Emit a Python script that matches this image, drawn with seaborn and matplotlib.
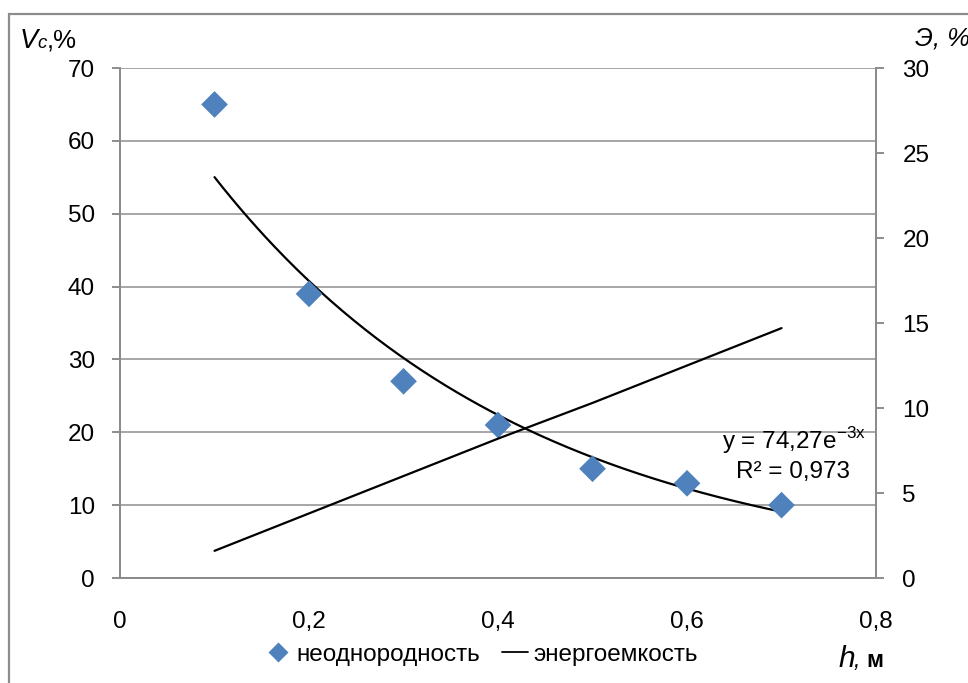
import numpy as np
import pandas as pd
import matplotlib
matplotlib.use("Agg")
import matplotlib.pyplot as plt
import seaborn as sns
from matplotlib.lines import Line2D
from matplotlib.patches import Rectangle

# Measured data
h_values = [0.1, 0.2, 0.3, 0.4, 0.5, 0.6, 0.7]
nonuniformity = [65, 39, 27, 21, 15, 13, 10]          # Vc, %
energy = [1.6, 3.8, 6.0, 8.2, 10.3, 12.5, 14.7]       # Э, %

# Exponential trendline of the non-uniformity series
trend_a = 74.27
trend_b = -3.0
trend_r2 = 0.973

left_ticks = [0, 10, 20, 30, 40, 50, 60, 70]
right_ticks = [0, 5, 10, 15, 20, 25, 30]
x_ticks = [0, 0.2, 0.4, 0.6, 0.8]

sns.set_theme(style="white")
plt.rcParams["font.family"] = ["Liberation Sans", "DejaVu Sans"]
plt.rcParams["mathtext.fontset"] = "custom"
plt.rcParams["mathtext.rm"] = "Liberation Sans"
plt.rcParams["text.color"] = "black"

BLUE = "#4F81BD"
GRID = "#A6A6A6"
AX = "#8C8C8C"
FS = 17.5

fig = plt.figure(figsize=(9.68, 6.83), dpi=100)
ax = fig.add_axes([0.124, 0.1537, 0.781, 0.7467])
ax2 = ax.twinx()

df = pd.DataFrame({"h": h_values, "v": nonuniformity, "e": energy})

sns.scatterplot(data=df, x="h", y="v", marker="D", s=185, color=BLUE,
                edgecolor="none", ax=ax, zorder=3, legend=False)

xs = np.linspace(h_values[0], h_values[-1], 200)
trend = pd.DataFrame({"h": xs, "t": trend_a * np.exp(trend_b * xs)})
sns.lineplot(data=trend, x="h", y="t", color="black", lw=1.6, ax=ax, zorder=2)

sns.lineplot(data=df, x="h", y="e", color="black", lw=1.6, ax=ax2, zorder=2)

ax.set_xlim(0, 0.8)
ax.set_ylim(0, 70)
ax2.set_ylim(0, 30)
ax.set_xticks(x_ticks)
ax.set_yticks(left_ticks)
ax2.set_yticks(right_ticks)
fmt = lambda v: ("%g" % v).replace(".", ",")
ax.set_xticklabels([fmt(v) for v in x_ticks])
ax.set_yticklabels([fmt(v) for v in left_ticks])
ax2.set_yticklabels([fmt(v) for v in right_ticks])
ax.set_xlabel("")
ax.set_ylabel("")
ax2.set_ylabel("")

ax.yaxis.grid(True, color=GRID, lw=1.4)
ax.xaxis.grid(False)
ax2.grid(False)
for a in (ax, ax2):
    for s in a.spines.values():
        s.set_color(AX)
        s.set_linewidth(1.4)
    a.spines["top"].set_visible(False)
    a.tick_params(colors=AX, labelcolor="black", length=6, width=1.4,
                  labelsize=FS, direction="out")
ax.tick_params(axis="y", pad=12)
ax.tick_params(axis="x", pad=18)
ax2.tick_params(axis="y", pad=13)

# Axis titles
fig.text(0.020, 0.930, "V", fontsize=FS + 2, style="italic", va="baseline")
fig.text(0.039, 0.930, "c", fontsize=FS - 4, style="italic", va="baseline")
fig.text(0.048, 0.930, ",%", fontsize=FS + 1, va="baseline")
fig.text(0.945, 0.933, "Э, %", fontsize=FS + 1, style="italic", va="baseline")
fig.text(0.866, 0.024, "h", fontsize=FS + 4, style="italic", va="baseline")
fig.text(0.882, 0.024, ",", fontsize=FS - 1, style="italic", va="baseline")
fig.text(0.895, 0.024, "м", fontsize=FS - 1, weight="bold", va="baseline")

# Trendline equation
ax.text(0.713, 18.9, "y = 74,27e$^{\\mathregular{-3x}}$", fontsize=FS,
        ha="center", va="center")
ax.text(0.712, 14.5, "R² = " + fmt(trend_r2), fontsize=FS, ha="center", va="center")

handles = [
    Line2D([], [], marker="D", ls="none", color=BLUE, ms=10, mec="none"),
    Line2D([], [], color="black", lw=1.3),
]
fig.legend(handles, ["неоднородность", "энергоемкость"], loc="center",
           bbox_to_anchor=(0.497, 0.041), ncol=2, frameon=False, fontsize=FS,
           handlelength=1.1, handletextpad=0.2, columnspacing=0.9)

# Chart frame
fig.patches.append(Rectangle((0.009, -0.05), 1.1, 1.03, transform=fig.transFigure,
                             fill=False, edgecolor="#8C8C8C", lw=1.6))

fig.savefig("out.png", dpi=100)
